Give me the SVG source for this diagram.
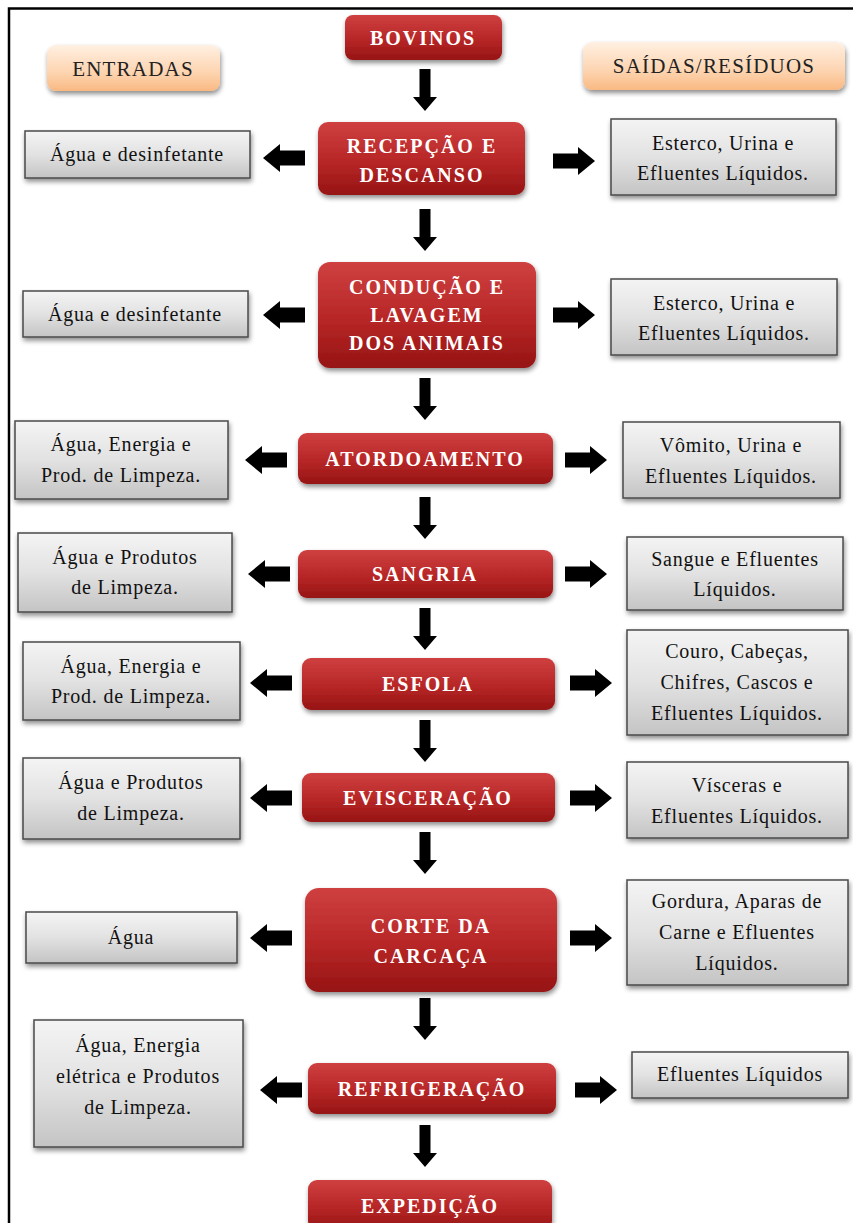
<svg xmlns="http://www.w3.org/2000/svg" width="853" height="1223" viewBox="0 0 853 1223">
<defs>
<linearGradient id="red" x1="0" y1="0" x2="0" y2="1">
<stop offset="0" stop-color="#cf4040"/><stop offset="0.55" stop-color="#b72626"/><stop offset="1" stop-color="#961414"/>
</linearGradient>
<linearGradient id="gray" x1="0" y1="0" x2="0" y2="1">
<stop offset="0" stop-color="#f4f4f4"/><stop offset="0.5" stop-color="#e2e2e2"/><stop offset="1" stop-color="#c4c4c4"/>
</linearGradient>
<linearGradient id="orange" x1="0" y1="0" x2="0" y2="1">
<stop offset="0" stop-color="#fff0e2"/><stop offset="0.6" stop-color="#fdd4b0"/><stop offset="1" stop-color="#f9b982"/>
</linearGradient>
<filter id="sh" x="-10%" y="-10%" width="125%" height="135%">
<feGaussianBlur in="SourceAlpha" stdDeviation="2.5"/><feOffset dx="1" dy="3" result="b"/>
<feComponentTransfer><feFuncA type="linear" slope="0.45"/></feComponentTransfer>
<feMerge><feMergeNode/><feMergeNode in="SourceGraphic"/></feMerge>
</filter>
<path id="ad" d="M-5.5,0 H5.5 V28 H12 L0,42 L-12,28 H-5.5 Z"/>
<path id="al" d="M0,0 L17,-14 V-7.5 H42 V7.5 H17 V14 Z"/>
<path id="ar" d="M0,0 L-17,-14 V-7.5 H-42 V7.5 H-17 V14 Z"/>
</defs>
<style>
text{font-family:'Liberation Serif','DejaVu Serif','Times New Roman',serif}
.proc rect{fill:url(#red);filter:url(#sh)}
.proc text{fill:#fff;font-weight:bold;font-size:20px;letter-spacing:2px;text-anchor:middle}
.io rect{fill:url(#gray);stroke:#4a4a4a;stroke-width:1.5;filter:url(#sh)}
.io text{fill:#111;font-size:20px;letter-spacing:0.8px;text-anchor:middle}
.hdr rect{fill:url(#orange);filter:url(#sh)}
.hdr text{fill:#222;font-size:21px;letter-spacing:1.2px;text-anchor:middle}
#connectors use{fill:#000}
</style>
<rect width="853" height="1223" fill="#fff"/>
<path d="M9,1223 V8.5 H853" fill="none" stroke="#000" stroke-width="2.5"/>

<g id="hdr-entradas" class="hdr"><rect x="47" y="45" width="173" height="46" rx="9"/><text x="133" y="76">ENTRADAS</text></g>
<g id="hdr-saidas" class="hdr"><rect x="583" y="42" width="262" height="48" rx="9"/><text x="714" y="73">SAÍDAS/RESÍDUOS</text></g>

<g id="bovinos" class="proc"><rect x="345" y="15" width="157" height="45" rx="8"/><text x="423" y="45">BOVINOS</text></g>

<g id="recepcao" class="proc"><rect x="318" y="122" width="207" height="73" rx="10"/><text x="422" y="153">RECEPÇÃO E</text><text x="422" y="182">DESCANSO</text></g>
<g id="in-recepcao" class="io"><rect x="25" y="131" width="225" height="47"/><text x="137" y="161">Água e desinfetante</text></g>
<g id="out-recepcao" class="io"><rect x="611" y="119" width="225" height="76"/><text x="723" y="150">Esterco, Urina e</text><text x="723" y="180">Efluentes Líquidos.</text></g>

<g id="conducao" class="proc"><rect x="318" y="262" width="218" height="106" rx="12"/><text x="427" y="294">CONDUÇÃO E</text><text x="427" y="322">LAVAGEM</text><text x="427" y="350">DOS ANIMAIS</text></g>
<g id="in-conducao" class="io"><rect x="23" y="291" width="225" height="46"/><text x="135" y="321">Água e desinfetante</text></g>
<g id="out-conducao" class="io"><rect x="611" y="279" width="226" height="76"/><text x="724" y="310">Esterco, Urina e</text><text x="724" y="340">Efluentes Líquidos.</text></g>

<g id="atordoamento" class="proc"><rect x="298" y="433" width="255" height="51" rx="9"/><text x="425" y="466">ATORDOAMENTO</text></g>
<g id="in-atordoamento" class="io"><rect x="15" y="421" width="213" height="78"/><text x="121" y="451">Água, Energia e</text><text x="121" y="482">Prod. de Limpeza.</text></g>
<g id="out-atordoamento" class="io"><rect x="623" y="422" width="217" height="76"/><text x="731" y="452">Vômito, Urina e</text><text x="731" y="483">Efluentes Líquidos.</text></g>

<g id="sangria" class="proc"><rect x="298" y="550" width="255" height="48" rx="9"/><text x="425" y="581">SANGRIA</text></g>
<g id="in-sangria" class="io"><rect x="18" y="533" width="214" height="79"/><text x="125" y="564">Água e Produtos</text><text x="125" y="594">de Limpeza.</text></g>
<g id="out-sangria" class="io"><rect x="627" y="537" width="216" height="73"/><text x="735" y="566">Sangue e Efluentes</text><text x="735" y="596">Líquidos.</text></g>

<g id="esfola" class="proc"><rect x="302" y="658" width="253" height="52" rx="9"/><text x="428" y="691">ESFOLA</text></g>
<g id="in-esfola" class="io"><rect x="23" y="642" width="217" height="78"/><text x="131" y="673">Água, Energia e</text><text x="131" y="703">Prod. de Limpeza.</text></g>
<g id="out-esfola" class="io"><rect x="627" y="630" width="221" height="105"/><text x="737" y="658">Couro, Cabeças,</text><text x="737" y="689">Chifres, Cascos e</text><text x="737" y="720">Efluentes Líquidos.</text></g>

<g id="evisceracao" class="proc"><rect x="302" y="773" width="253" height="49" rx="9"/><text x="428" y="805">EVISCERAÇÃO</text></g>
<g id="in-evisceracao" class="io"><rect x="23" y="758" width="217" height="81"/><text x="131" y="789">Água e Produtos</text><text x="131" y="820">de Limpeza.</text></g>
<g id="out-evisceracao" class="io"><rect x="627" y="762" width="221" height="76"/><text x="737" y="792">Vísceras e</text><text x="737" y="823">Efluentes Líquidos.</text></g>

<g id="corte" class="proc"><rect x="305" y="888" width="252" height="104" rx="14"/><text x="431" y="933">CORTE DA</text><text x="431" y="963">CARCAÇA</text></g>
<g id="in-corte" class="io"><rect x="26" y="912" width="211" height="51"/><text x="131" y="944">Água</text></g>
<g id="out-corte" class="io"><rect x="627" y="880" width="221" height="105"/><text x="737" y="908">Gordura, Aparas de</text><text x="737" y="939">Carne e Efluentes</text><text x="737" y="970">Líquidos.</text></g>

<g id="refrigeracao" class="proc"><rect x="308" y="1063" width="248" height="51" rx="9"/><text x="432" y="1096">REFRIGERAÇÃO</text></g>
<g id="in-refrigeracao" class="io"><rect x="34" y="1020" width="209" height="127"/><text x="138" y="1052">Água, Energia</text><text x="138" y="1083">elétrica e Produtos</text><text x="138" y="1114">de Limpeza.</text></g>
<g id="out-refrigeracao" class="io"><rect x="632" y="1052" width="216" height="46"/><text x="740" y="1081">Efluentes Líquidos</text></g>

<g id="expedicao" class="proc"><rect x="308" y="1180" width="244" height="50" rx="9"/><text x="430" y="1213">EXPEDIÇÃO</text></g>

<g id="connectors">
<use href="#ad" x="425" y="69"/>
<use href="#ad" x="425" y="209"/>
<use href="#ad" x="425" y="378"/>
<use href="#ad" x="425" y="497"/>
<use href="#ad" x="425" y="608"/>
<use href="#ad" x="425" y="720"/>
<use href="#ad" x="425" y="832"/>
<use href="#ad" x="425" y="998"/>
<use href="#ad" x="425" y="1125"/>
<use href="#al" x="263" y="158"/>
<use href="#ar" x="595" y="161"/>
<use href="#al" x="263" y="315"/>
<use href="#ar" x="595" y="315"/>
<use href="#al" x="245" y="460"/>
<use href="#ar" x="607" y="460"/>
<use href="#al" x="248" y="574"/>
<use href="#ar" x="607" y="574"/>
<use href="#al" x="250" y="683"/>
<use href="#ar" x="612" y="683"/>
<use href="#al" x="250" y="798"/>
<use href="#ar" x="612" y="798"/>
<use href="#al" x="250" y="938"/>
<use href="#ar" x="612" y="938"/>
<use href="#al" x="260" y="1090"/>
<use href="#ar" x="617" y="1090"/>
</g>
</svg>
